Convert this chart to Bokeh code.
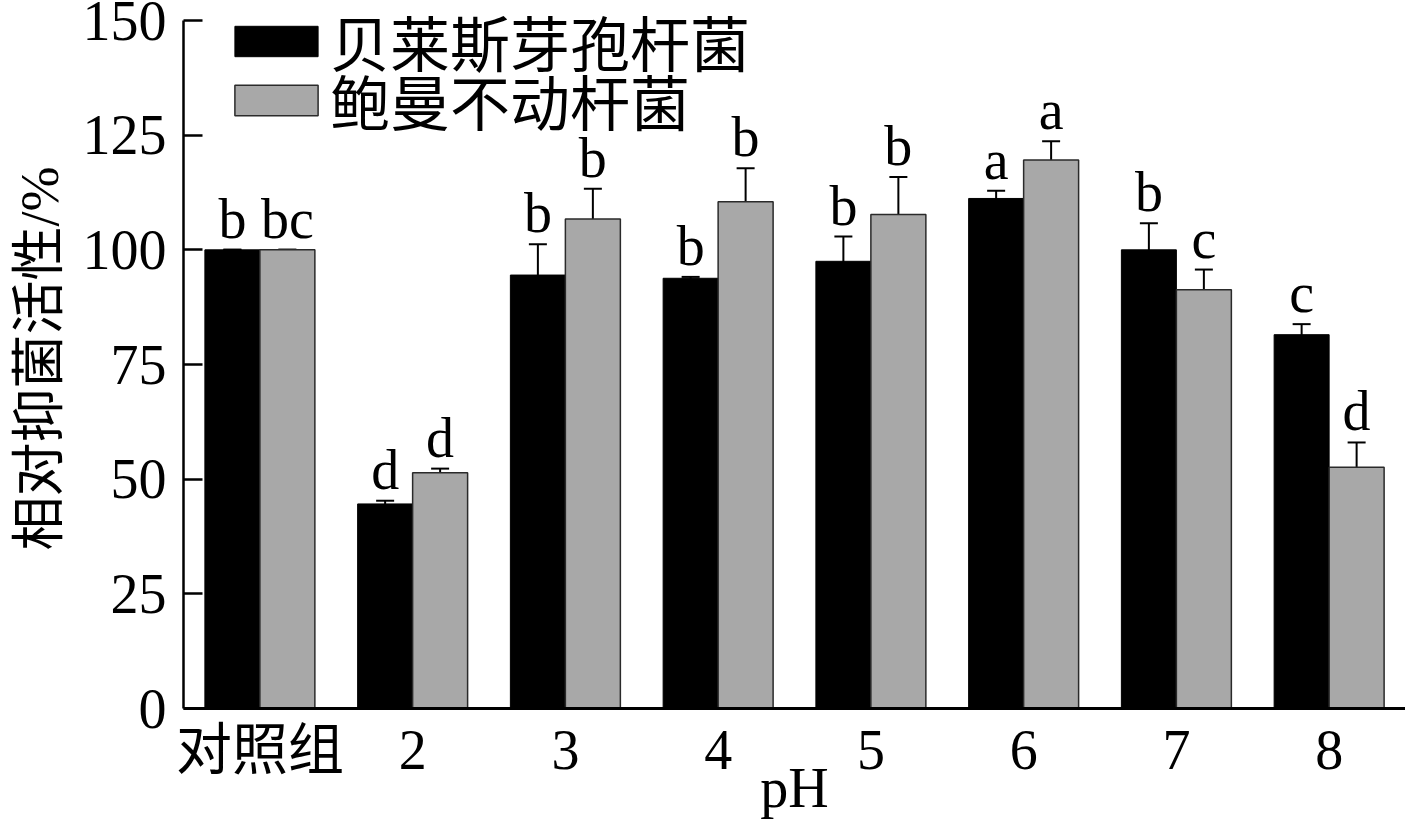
from bokeh.plotting import figure
from bokeh.models import ColumnDataSource, FactorRange, Range1d, FixedTicker, Whisker, TeeHead, Legend, LegendItem
from bokeh.transform import dodge
from bokeh.core.properties import value
from bokeh.embed import file_html
from bokeh.resources import INLINE

categories = ["对照组", "2", "3", "4", "5", "6", "7", "8"]
series_names = ["贝莱斯芽孢杆菌", "鲍曼不动杆菌"]
bac_vals = [100.0, 44.6, 94.5, 93.8, 97.5, 111.2, 100.0, 81.5]
bac_err = [0.0, 0.7, 6.7, 0.3, 5.4, 1.7, 5.8, 2.3]
bac_letters = ["b", "d", "b", "b", "b", "a", "b", "c"]
aci_vals = [100.0, 51.4, 106.7, 110.5, 107.7, 119.6, 91.3, 52.6]
aci_err = [0.0, 0.9, 6.6, 7.3, 8.2, 4.1, 4.4, 5.4]
aci_letters = ["bc", "d", "b", "b", "b", "a", "c", "d"]
y_ticks = [0, 25, 50, 75, 100, 125, 150]

SERIF = "Liberation Serif, Noto Sans CJK SC"

src = ColumnDataSource(dict(
    cat=categories,
    bv=bac_vals, b_hi=[v + e for v, e in zip(bac_vals, bac_err)], b_lo=[v - e for v, e in zip(bac_vals, bac_err)],
    av=aci_vals, a_hi=[v + e for v, e in zip(aci_vals, aci_err)], a_lo=[v - e for v, e in zip(aci_vals, aci_err)],
    bl=bac_letters, al=aci_letters,
))

TOP = 8
BOTTOM = 114
H = 822
frame_h = H - TOP - BOTTOM
# the 150 tick sits 12px below the frame top
px_per_unit = (frame_h - 12) / y_ticks[-1]
y_end = y_ticks[-1] + 12 / px_per_unit

p = figure(width=1405, height=H, output_backend="svg", toolbar_location=None,
           x_range=FactorRange(*categories, range_padding=0.0, factor_padding=0.0),
           y_range=Range1d(0, y_end),
           min_border_left=183, min_border_top=TOP, min_border_right=0, min_border_bottom=BOTTOM)
p.outline_line_color = None
p.grid.visible = False
p.background_fill_color = "white"

bw = 0.36
xb = dodge("cat", -bw / 2, range=p.x_range)
xa = dodge("cat", bw / 2, range=p.x_range)

rb = p.vbar(x=xb, top="bv", width=bw, source=src, fill_color="black", line_color="black", line_width=1)
ra = p.vbar(x=xa, top="av", width=bw, source=src, fill_color="#a8a8a8", line_color="#2a2a2a", line_width=1.5)

for base, hi, lo in ((xb, "b_hi", "b_lo"), (xa, "a_hi", "a_lo")):
    w = Whisker(source=src, base=base, upper=hi, lower=lo, line_color="black", line_width=2,
                upper_head=TeeHead(size=18, line_width=2, line_color="black"),
                lower_head=TeeHead(size=18, line_width=2, line_color="black"))
    p.add_layout(w)

for xx, col_y, col_t in ((xb, "b_hi", "bl"), (xa, "a_hi", "al")):
    p.text(x=xx, y=col_y, text=col_t, source=src, y_offset=-31, text_align="center",
           text_baseline="alphabetic", text_font=value("Liberation Serif"), text_font_size="56px",
           text_color="black")

# y axis
ya = p.yaxis[0]
ya.ticker = FixedTicker(ticks=y_ticks)
ya.bounds = (y_ticks[0], y_ticks[-1])
ya.axis_line_width = 2.5
ya.axis_line_color = "black"
ya.major_tick_in = 19
ya.major_tick_out = 0
ya.major_tick_line_width = 2.5
ya.minor_tick_line_color = None
ya.major_label_text_font = SERIF
ya.major_label_text_font_size = "56px"
ya.major_label_text_color = "black"
ya.major_label_standoff = 17
ya.axis_label = "相对抑菌活性/%"
ya.axis_label_text_font = SERIF
ya.axis_label_text_font_size = "54px"
ya.axis_label_text_font_style = "normal"
ya.axis_label_text_color = "black"
ya.axis_label_standoff = 10

xa_ = p.xaxis[0]
xa_.axis_line_width = 3
xa_.axis_line_color = "black"
xa_.major_tick_line_color = None
xa_.minor_tick_line_color = None
xa_.major_label_text_font = SERIF
xa_.major_label_text_font_size = "56px"
xa_.major_label_text_color = "black"
xa_.major_label_standoff = 4
xa_.axis_label = "pH"
xa_.axis_label_text_font = "Liberation Serif"
xa_.axis_label_text_font_size = "56px"
xa_.axis_label_text_font_style = "normal"
xa_.axis_label_text_color = "black"
xa_.axis_label_standoff = -27

ROW = 70
for r, name, top_px in ((rb, series_names[0], 6), (ra, series_names[1], 65)):
    lg = Legend(items=[LegendItem(label=name, renderers=[r])],
                location=(41, frame_h - top_px - ROW))
    lg.margin = 0
    lg.padding = 0
    lg.spacing = 0
    lg.border_line_color = None
    lg.background_fill_alpha = 0
    lg.glyph_width = 104
    lg.glyph_height = 38
    lg.label_height = ROW
    lg.label_standoff = 2
    lg.label_text_font = SERIF
    lg.label_text_font_size = "60px"
    lg.label_text_color = "black"
    p.add_layout(lg, "center")

open("out.html", "w").write(file_html(p, INLINE))
